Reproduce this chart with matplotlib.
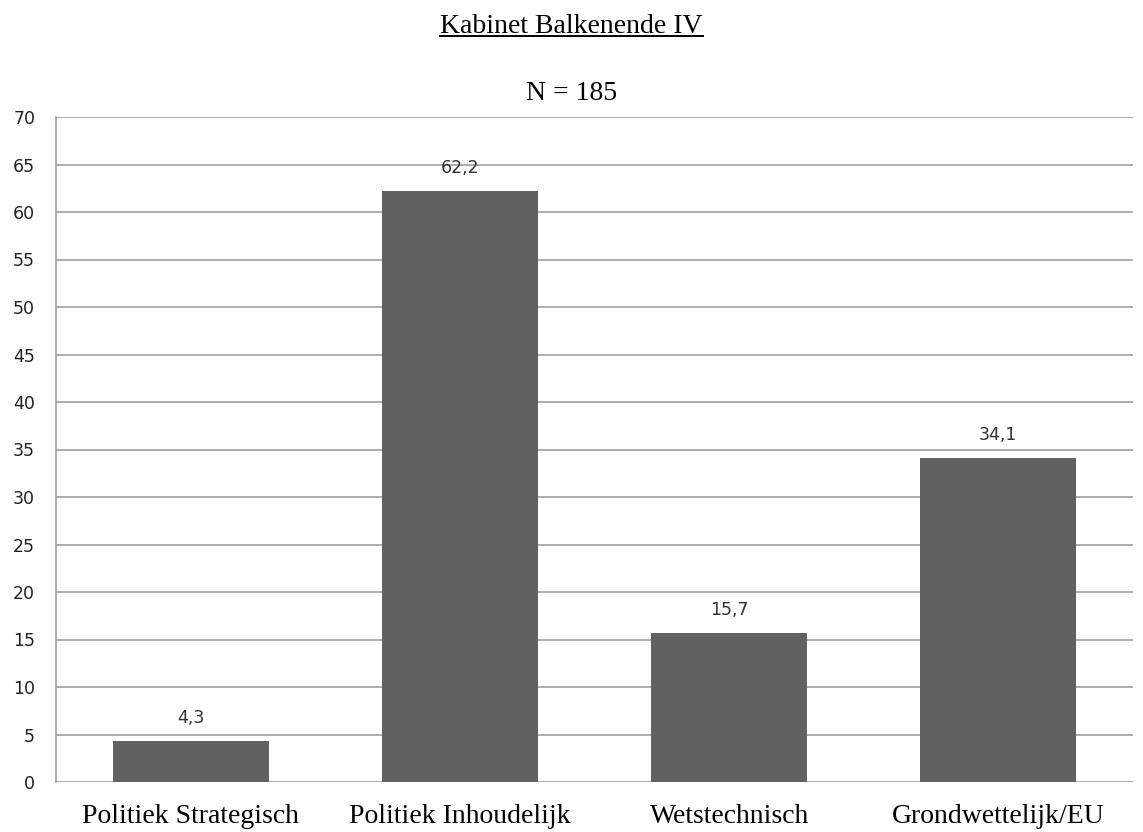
import matplotlib
matplotlib.use("Agg")
import matplotlib.pyplot as plt
from matplotlib.lines import Line2D

categories = ["Politiek Strategisch", "Politiek Inhoudelijk", "Wetstechnisch", "Grondwettelijk/EU"]
values = [4.3, 62.2, 15.7, 34.1]
value_labels = ["4,3", "62,2", "15,7", "34,1"]
yticks = list(range(0, 75, 5))
title = "Kabinet Balkenende IV"
subtitle = "N = 185"

fig = plt.figure(figsize=(11.43, 8.32), dpi=100)
ax = fig.add_axes([56/1143, 1-782/832, (1133-56)/1143, (782-117)/832])

x = list(range(len(categories)))
ax.bar(x, values, width=0.58, color="#616161", zorder=3)
for xi, v, lab in zip(x, values, value_labels):
    ax.text(xi, v + 2.4, lab, ha="center", va="center", fontsize=12.5,
            family="DejaVu Sans", color="#333333")

ax.set_xlim(-0.5, 3.5)
ax.set_ylim(0, 70)
ax.set_yticks(yticks)
ax.set_yticklabels([str(t) for t in yticks], fontsize=12.5, family="DejaVu Sans", color="#222222")
ax.set_xticks(x)
ax.set_xticklabels(categories, fontsize=20, family="Liberation Serif", color="black")
ax.tick_params(axis="both", length=0)
ax.tick_params(axis="y", pad=15)
ax.tick_params(axis="x", pad=16)
ax.grid(axis="y", color="#a0a0a0", linewidth=1.2, zorder=0)
for s in ["top", "right", "bottom"]:
    ax.spines[s].set_visible(False)
ax.spines["left"].set_color("#a0a0a0")
ax.spines["left"].set_linewidth(1.2)

t = fig.text(0.5, 1-33/832, title, ha="center", va="baseline", fontsize=20,
             family="Liberation Serif", color="black")
fig.text(0.5, 1-100/832, subtitle, ha="center", va="baseline", fontsize=20,
         family="Liberation Serif", color="black")

fig.canvas.draw()
bb = t.get_window_extent().transformed(fig.transFigure.inverted())
uy = 1-36/832
fig.add_artist(Line2D([bb.x0, bb.x1], [uy, uy], transform=fig.transFigure,
                      color="black", linewidth=1.4))

fig.savefig("out.png", dpi=100)
